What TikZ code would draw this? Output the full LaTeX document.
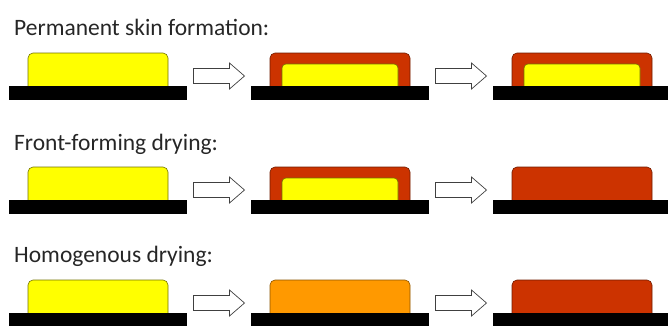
\documentclass[tikz,border=0pt]{standalone}
\usepackage{fontspec}
\setmainfont{Carlito}
\usetikzlibrary{calc}
\definecolor{wetyellow}{HTML}{FFFF00}
\definecolor{dryred}{HTML}{CC3300}
\definecolor{midorange}{HTML}{FF9900}
\begin{document}
\begin{tikzpicture}[x=1pt,y=-1pt]
\tikzset{
  bar/.style={fill=black, draw=none, minimum width=178pt, minimum height=14pt, inner sep=0pt, outer sep=0pt, anchor=north west},
  blob/.style={rounded corners=5pt, minimum width=140pt, minimum height=41pt, inner sep=0pt, outer sep=0pt, anchor=south west, line width=0.6pt},
  core/.style={rounded corners=4pt, minimum width=116pt, minimum height=30pt, inner sep=0pt, outer sep=0pt, anchor=south, line width=0.6pt},
  yel/.style={fill=wetyellow, draw=wetyellow!45!black},
  red/.style={fill=dryred, draw=dryred!55!black},
  ora/.style={fill=midorange, draw=midorange!55!black},
  title/.style={anchor=base west, inner sep=0pt, font=\fontsize{23.5}{28}\selectfont, text=black!85},
  arrowsty/.style={fill=white, draw=black!75, line width=0.7pt, line join=miter}
}
\useasboundingbox (0,0) rectangle (668,325);
\clip (0,0) rectangle (668,325);

% titles
\node[title] (t1) at (14,35) {Permanent skin formation:};
\node[title] (t2) at (14,150) {Front-forming drying:};
\node[title] (t3) at (14,262) {Homogenous drying:};

% substrate anchors
\foreach \r/\y in {1/86,2/200,3/313}{
  \coordinate (p\r1) at (9,\y);
  \coordinate (p\r2) at (251,\y);
  \coordinate (p\r3) at (493,\y);
}

% row 1
\node[blob,yel] (s11) at ($(p11)+(19,8)$) {};
\node[blob,red] (s12) at ($(p12)+(19,8)$) {};
\node[core,yel] (c12) at (s12.south) {};
\node[blob,red] (s13) at ($(p13)+(19,8)$) {};
\node[core,yel] (c13) at (s13.south) {};

% row 2
\node[blob,yel] (s21) at ($(p21)+(19,8)$) {};
\node[blob,red] (s22) at ($(p22)+(19,8)$) {};
\node[core,yel] (c22) at (s22.south) {};
\node[blob,red] (s23) at ($(p23)+(19,8)$) {};

% row 3
\node[blob,yel] (s31) at ($(p31)+(19,8)$) {};
\node[blob,ora] (s32) at ($(p32)+(19,8)$) {};
\node[blob,red] (s33) at ($(p33)+(19,8)$) {};

% bars (drawn over the blob bottoms)
\foreach \r in {1,2,3}{
  \foreach \c in {1,2,3}{
    \node[bar] (b\r\c) at (p\r\c) {};
  }
}

% arrows
\foreach \r in {1,2,3}{
  \foreach \c in {1,2}{
    \coordinate (a\r\c) at ($(b\r\c.north east)+(6.5,-10)$);
    \draw[arrowsty] (a\r\c) ++(0,-7.5) -- ++(36,0) -- ++(0,-5.5) -- ++(15,13) -- ++(-15,13) -- ++(0,-5.5) -- ++(-36,0) -- cycle;
  }
}
\end{tikzpicture}
\end{document}
